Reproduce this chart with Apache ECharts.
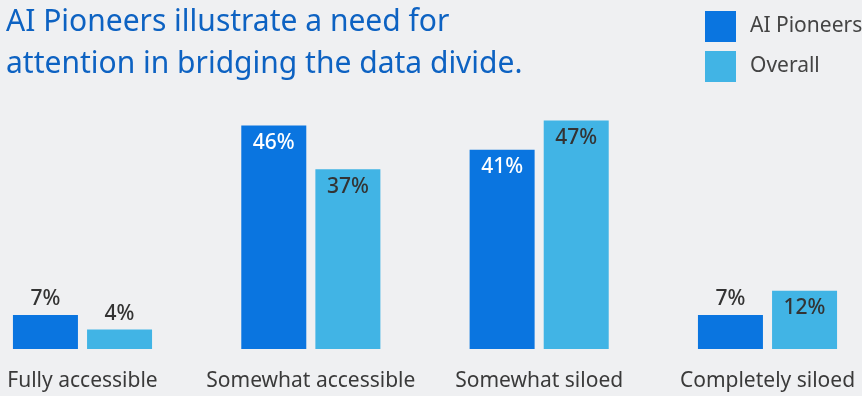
<!DOCTYPE html>
<html>
<head>
<meta charset="utf-8">
<title>AI Pioneers and the data divide</title>
<script src="https://cdn.jsdelivr.net/npm/echarts@6/dist/echarts.min.js"></script>
<style>
  html, body { margin: 0; padding: 0; background: #eff0f2; }
  #chart { width: 862px; height: 396px; }
</style>
</head>
<body>
<div id="chart"></div>
<script>
// Share of respondents by data accessibility
const categories = ['Fully accessible', 'Somewhat accessible', 'Somewhat siloed', 'Completely siloed'];
const seriesNames = ['AI Pioneers', 'Overall'];
const aiPioneers = [7, 46, 41, 7];
const overall = [4, 37, 47, 12];
const titleLines = ['AI Pioneers illustrate a need for', 'attention in bridging the data divide.'];

const FONT = '"Noto Sans", sans-serif';
const DARK = '#0a75e0';
const LIGHT = '#41b4e5';
const TEXT = '#333333';

// Small bars carry their label above; taller bars carry it just inside the top.
function withLabels(values, insideColor) {
  return values.map(v => ({
    value: v,
    label: v < 10
      ? { position: 'top', distance: 5, color: TEXT }
      : { position: 'insideTop', distance: 7, color: insideColor }
  }));
}

const chart = echarts.init(document.getElementById('chart'), null, { renderer: 'canvas' });

chart.setOption({
  backgroundColor: '#eff0f2',
  animation: false,
  title: {
    text: titleLines.join('\n'),
    left: 6,
    top: 1,
    padding: 0,
    textStyle: {
      fontFamily: FONT,
      fontSize: 30,
      fontWeight: 'normal',
      lineHeight: 42,
      color: '#0d62c2'
    }
  },
  legend: {
    data: seriesNames,
    orient: 'vertical',
    left: 705,
    top: 11,
    padding: 0,
    itemWidth: 31,
    itemHeight: 31,
    itemGap: 9,
    icon: 'rect',
    textStyle: {
      fontFamily: FONT,
      fontSize: 21,
      color: '#444444',
      padding: [0, 0, 0, 9]
    }
  },
  grid: {
    left: -31.67,
    right: -19.67,
    top: 106,
    bottom: 47,
    containLabel: false,
    outerBoundsMode: 'none'
  },
  xAxis: {
    type: 'category',
    data: categories,
    axisLine: { show: false },
    axisTick: { show: false },
    axisLabel: {
      margin: 22,
      fontFamily: FONT,
      fontSize: 21,
      color: '#3a3a3a',
      interval: 0
    }
  },
  yAxis: {
    type: 'value',
    min: 0,
    max: 50,
    show: false,
    splitLine: { show: false }
  },
  series: [
    {
      name: seriesNames[0],
      type: 'bar',
      barWidth: 65,
      barGap: '14%',
      itemStyle: { color: DARK },
      label: {
        show: true,
        formatter: '{c}%',
        fontFamily: FONT,
        fontSize: 21,
        fontWeight: 500
      },
      data: withLabels(aiPioneers, '#ffffff')
    },
    {
      name: seriesNames[1],
      type: 'bar',
      barWidth: 65,
      itemStyle: { color: LIGHT },
      label: {
        show: true,
        formatter: '{c}%',
        fontFamily: FONT,
        fontSize: 21,
        fontWeight: 500
      },
      data: withLabels(overall, TEXT)
    }
  ]
});
</script>
</body>
</html>
